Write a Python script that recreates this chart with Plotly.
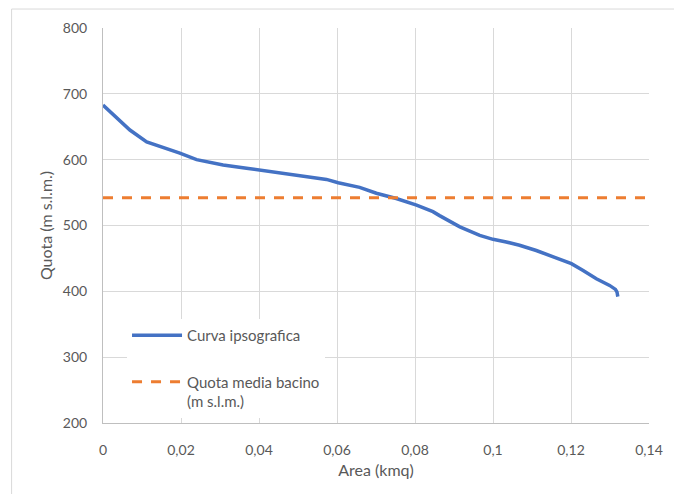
import plotly.graph_objects as go

# Hypsographic curve: cumulative area (km²) above each elevation (m a.s.l.)
area_kmq = [0.0, 0.0018, 0.0044, 0.0069, 0.0112, 0.0163, 0.0197, 0.0240, 0.0308,
            0.0368, 0.0402, 0.0462, 0.0505, 0.0573, 0.0603, 0.0658, 0.0701, 0.0752,
            0.0804, 0.0846, 0.0863, 0.0889, 0.0915, 0.0966, 0.1000, 0.1034, 0.1068,
            0.1111, 0.1154, 0.1201, 0.1230, 0.1265, 0.1299, 0.1314, 0.1318, 0.1320]
quota_m = [683, 673, 660, 645, 627, 617, 610, 600, 592,
           587, 584, 579, 575, 570, 565, 558, 549, 541,
           531, 521, 515, 506, 498, 485, 479, 475, 470,
           462, 452, 442, 432, 419, 409, 403, 399, 392]

# Mean basin elevation, drawn across the whole x range
media_x = [0.0, 0.14]
media_quota = [542, 542]

x_tickvals = [0, 0.02, 0.04, 0.06, 0.08, 0.10, 0.12, 0.14]
x_ticktext = ["0", "0,02", "0,04", "0,06", "0,08", "0,1", "0,12", "0,14"]
y_tickvals = [200, 300, 400, 500, 600, 700, 800]

FONT = "Lato, 'Open Sans', sans-serif"
GRAY_TXT = "#595959"
GRID = "#d9d9d9"

fig = go.Figure()
fig.add_trace(go.Scatter(
    x=area_kmq, y=quota_m, mode="lines", name="Curva ipsografica",
    line=dict(color="#4472C4", width=3.5), legendgroup="a",
))
fig.add_trace(go.Scatter(
    x=media_x, y=media_quota, mode="lines", name="Quota media bacino<br>(m s.l.m.)",
    line=dict(color="#ED7D31", width=3, dash="10px,9px"), legendgroup="b",
))

fig.update_layout(
    width=674, height=494,
    margin=dict(l=103, r=25, t=28, b=71),
    paper_bgcolor="white", plot_bgcolor="white",
    font=dict(family=FONT, color=GRAY_TXT, size=14),
    showlegend=True,
    legend=dict(
        x=0.044, y=0.263, xanchor="left", yanchor="top",
        bgcolor="white", borderwidth=0,
        font=dict(family=FONT, color=GRAY_TXT, size=15),
        traceorder="grouped", tracegroupgap=24, valign="top",
        itemwidth=50,
    ),
    shapes=[dict(
        type="rect", xref="paper", yref="paper",
        x0=-0.1674, x1=1.2, y0=-0.3, y1=1.048,
        line=dict(color=GRID, width=1), fillcolor="rgba(0,0,0,0)", layer="below",
    )],
)

fig.update_xaxes(
    range=[0, 0.14], tickvals=x_tickvals, ticktext=x_ticktext,
    showgrid=True, gridcolor=GRID, gridwidth=1,
    showline=True, linecolor="#bfbfbf", linewidth=1,
    zeroline=False, ticks="", ticklabelstandoff=14,
    tickfont=dict(size=14, color=GRAY_TXT),
    title=dict(text="Area (kmq)", font=dict(size=16, color=GRAY_TXT), standoff=8),
)
fig.update_yaxes(
    range=[200, 800], tickvals=y_tickvals,
    showgrid=True, gridcolor=GRID, gridwidth=1,
    showline=True, linecolor="#bfbfbf", linewidth=1,
    zeroline=False, ticks="", ticklabelstandoff=12,
    tickfont=dict(size=14, color=GRAY_TXT),
    title=dict(text="Quota (m s.l.m.)", font=dict(size=16, color=GRAY_TXT), standoff=6),
)

fig.write_html("out.html")
